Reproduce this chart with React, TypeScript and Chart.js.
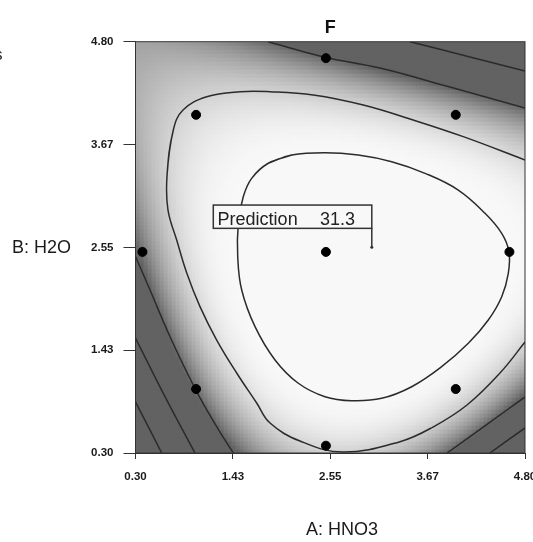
import React, { useEffect, useRef } from 'react';
import { Chart, registerables } from 'chart.js';

Chart.register(...registerables);

// ---------- axes ----------
const AXIS_MIN = 0.3;
const AXIS_MAX = 4.8;
const X_TICK_VALUES = [0.3, 1.425, 2.55, 3.675, 4.8];
const X_TICK_LABELS = ['0.30', '1.43', '2.55', '3.67', '4.80'];
const Y_TICK_VALUES = [0.3, 1.425, 2.55, 3.675, 4.8];
const Y_TICK_LABELS = ['0.30', '1.43', '2.55', '3.67', '4.80'];
const TITLE = 'F';
const X_TITLE = 'A: HNO3';
const Y_TITLE = 'B: H2O';
const STRAY_TEXT = 's';

// ---------- design points (A: HNO3, B: H2O) ----------
const DESIGN_A = [2.5, 1.0, 4.0, 1.0, 4.0, 0.38, 4.62, 2.5, 2.5];
const DESIGN_B = [2.5, 1.0, 1.0, 4.0, 4.0, 2.5, 2.5, 0.38, 4.62];

// ---------- prediction flag ----------
const PREDICTION_LABEL = 'Prediction';
const PREDICTION_A = 3.03;
const PREDICTION_B = 2.55;
const PREDICTION_VALUE = 31.3;

// ---------- contour traces [A, B] ----------
const CONTOUR_30 = [
  [1.834, 3.47], [2.105, 3.56], [2.489, 3.586], [2.874, 3.56], [3.26, 3.487], [3.645, 3.36],
  [4.029, 3.177], [4.338, 2.923], [4.531, 2.704], [4.615, 2.502], [4.607, 2.266], [4.531, 2.01],
  [4.376, 1.755], [4.145, 1.5], [3.837, 1.244], [3.491, 1.025], [3.144, 0.898], [2.798, 0.872],
  [2.489, 0.916], [2.181, 1.063], [1.912, 1.318], [1.681, 1.682], [1.527, 2.083], [1.481, 2.448],
  [1.488, 2.813], [1.545, 3.104], [1.642, 3.305],
];
const CONTOUR_25 = [
  [4.8, 3.506], [4.087, 3.761], [3.509, 3.943], [2.932, 4.107], [2.354, 4.217], [1.854, 4.253],
  [1.507, 4.253], [1.123, 4.198], [0.849, 4.053], [0.737, 3.834], [0.664, 3.331], [0.675, 2.959],
  [0.776, 2.63], [0.892, 2.269], [1.045, 1.901], [1.238, 1.536], [1.469, 1.175], [1.7, 0.847],
  [1.854, 0.628], [2.2, 0.431], [2.697, 0.311], [3.356, 0.424], [3.737, 0.584], [4.13, 0.825],
  [4.511, 1.175], [4.8, 1.514],
];
const CONTOUR_20_LEFT = [[0.3, 2.45], [0.468, 2.083], [0.699, 1.572], [0.987, 1.008], [1.238, 0.588], [1.43, 0.3]];
const CONTOUR_20_TOP = [[1.831, 4.8], [2.478, 4.633], [3.125, 4.512], [3.933, 4.304], [4.8, 4.075]];
const CONTOUR_20_RIGHT = [[3.899, 0.3], [4.349, 0.606], [4.8, 0.913]];
const CONTOUR_15_LEFT = [[0.3, 1.558], [0.621, 0.953], [0.987, 0.3]];
const CONTOUR_15_TOP = [[3.471, 4.8], [4.164, 4.633], [4.8, 4.479]];
const CONTOUR_15_RIGHT = [[4.395, 0.3], [4.8, 0.574]];
const CONTOUR_10_LEFT = [[0.3, 0.86], [0.603, 0.3]];

const CONTOURS = [
  { level: 30, points: CONTOUR_30, closed: true },
  { level: 25, points: CONTOUR_25, closed: false },
  { level: 20, points: CONTOUR_20_LEFT, closed: false },
  { level: 20, points: CONTOUR_20_TOP, closed: false },
  { level: 20, points: CONTOUR_20_RIGHT, closed: false },
  { level: 15, points: CONTOUR_15_LEFT, closed: false },
  { level: 15, points: CONTOUR_15_TOP, closed: false },
  { level: 15, points: CONTOUR_15_RIGHT, closed: false },
  { level: 10, points: CONTOUR_10_LEFT, closed: false },
];

// shade read at the top-left corner [A, B, value]
const SHADE_SAMPLES = [[0.3, 4.8, 21.5]];

// shading range of the grey map
const SHADE_LOW = 20;
const SHADE_HIGH = 29.5;

// ---------- surface fitted (least squares, cubic) to the traced contours ----------
function basis(a: number, b: number) {
  const u = (a - 2.55) / 2.25;
  const v = (b - 2.55) / 2.25;
  return [1, u, v, u * u, u * v, v * v, u * u * u, u * u * v, u * v * v, v * v * v];
}

function fitSurface() {
  const rows: number[][] = [];
  CONTOURS.forEach((c) => {
    const w = c.level <= 20 ? 2 : 1;
    c.points.forEach((p) => rows.push([p[0], p[1], c.level, w]));
  });
  rows.push([PREDICTION_A, PREDICTION_B, PREDICTION_VALUE, 4]);
  SHADE_SAMPLES.forEach((s) => rows.push([s[0], s[1], s[2], 1]));
  const n = 10;
  const M = Array.from({ length: n }, () => new Array(n).fill(0));
  const r = new Array(n).fill(0);
  for (const [a, b, val, w] of rows) {
    const f = basis(a, b);
    for (let i = 0; i < n; i++) {
      r[i] += w * f[i] * val;
      for (let j = 0; j < n; j++) M[i][j] += w * f[i] * f[j];
    }
  }
  for (let i = 0; i < n; i++) M[i][i] += 1e-6;
  for (let k = 0; k < n; k++) {
    let piv = k;
    for (let i = k + 1; i < n; i++) if (Math.abs(M[i][k]) > Math.abs(M[piv][k])) piv = i;
    [M[k], M[piv]] = [M[piv], M[k]];
    [r[k], r[piv]] = [r[piv], r[k]];
    for (let i = k + 1; i < n; i++) {
      const f = M[i][k] / M[k][k];
      for (let j = k; j < n; j++) M[i][j] -= f * M[k][j];
      r[i] -= f * r[k];
    }
  }
  const c = new Array(n).fill(0);
  for (let i = n - 1; i >= 0; i--) {
    let s = r[i];
    for (let j = i + 1; j < n; j++) s -= M[i][j] * c[j];
    c[i] = s / M[i][i];
  }
  return c;
}

const COEF = fitSurface();

function surface(a: number, b: number) {
  const f = basis(a, b);
  let s = 0;
  for (let i = 0; i < f.length; i++) s += COEF[i] * f[i];
  return s;
}

function grey(v: number) {
  const t = Math.min(1, Math.max(0, (v - SHADE_LOW) / (SHADE_HIGH - SHADE_LOW)));
  return Math.round(98 + 150 * (1 - Math.pow(1 - t, 1.9)));
}

const FONT = '"Liberation Sans", Arial, sans-serif';

const heatmapPlugin = {
  id: 'heatmap',
  beforeDatasetsDraw(chart: any) {
    const { ctx, chartArea } = chart;
    const xs = chart.scales.x;
    const ys = chart.scales.y;
    const cell = 4;
    ctx.save();
    ctx.beginPath();
    ctx.rect(chartArea.left, chartArea.top, chartArea.right - chartArea.left, chartArea.bottom - chartArea.top);
    ctx.clip();
    for (let py = chartArea.top; py < chartArea.bottom; py += cell) {
      for (let px = chartArea.left; px < chartArea.right; px += cell) {
        const a = xs.getValueForPixel(px + cell / 2);
        const b = ys.getValueForPixel(py + cell / 2);
        const g = grey(surface(a, b));
        ctx.fillStyle = `rgb(${g},${g},${g})`;
        ctx.fillRect(px, py, cell + 0.6, cell + 0.6);
      }
    }
    ctx.restore();
  },
};

const decorPlugin = {
  id: 'decor',
  afterDatasetsDraw(chart: any) {
    const { ctx, chartArea } = chart;
    const xs = chart.scales.x;
    const ys = chart.scales.y;
    ctx.save();
    // frame
    ctx.strokeStyle = '#333';
    ctx.lineWidth = 1;
    ctx.strokeRect(chartArea.left, chartArea.top, chartArea.right - chartArea.left, chartArea.bottom - chartArea.top);
    // prediction flag
    const px = xs.getPixelForValue(PREDICTION_A);
    const py = ys.getPixelForValue(PREDICTION_B);
    const bottom = py - 19;
    const top = bottom - 23.3;
    const left = px - 158.5;
    ctx.fillStyle = '#f8f8f8';
    ctx.fillRect(left, top, px - left, bottom - top);
    ctx.strokeStyle = '#333';
    ctx.lineWidth = 1.5;
    ctx.strokeRect(left, top, px - left, bottom - top);
    ctx.beginPath();
    ctx.moveTo(px, bottom);
    ctx.lineTo(px, py);
    ctx.stroke();
    ctx.fillStyle = '#333';
    ctx.beginPath();
    ctx.arc(px, py, 1.5, 0, Math.PI * 2);
    ctx.fill();
    ctx.fillStyle = '#222';
    ctx.font = `18px ${FONT}`;
    ctx.textAlign = 'left';
    ctx.textBaseline = 'alphabetic';
    ctx.fillText(PREDICTION_LABEL, left + 4.3, bottom - 3.3);
    ctx.fillText(PREDICTION_VALUE.toFixed(1), left + 106.7, bottom - 3.3);
    ctx.restore();
  },
  afterDraw(chart: any) {
    const { ctx, chartArea } = chart;
    ctx.save();
    ctx.fillStyle = '#111';
    ctx.textBaseline = 'alphabetic';
    ctx.font = `bold 18px ${FONT}`;
    ctx.textAlign = 'center';
    ctx.fillText(TITLE, (chartArea.left + chartArea.right) / 2, 32.5);
    ctx.font = `18px ${FONT}`;
    ctx.fillStyle = '#1a1a1a';
    ctx.fillText(X_TITLE, 342, 535);
    ctx.textAlign = 'left';
    ctx.fillText(Y_TITLE, 12, 253);
    ctx.font = `16px ${FONT}`;
    ctx.fillText(STRAY_TEXT, -5.5, 60);
    ctx.restore();
  },
};

function noPad(s: any) {
  s.paddingLeft = 0;
  s.paddingRight = 0;
  s.paddingTop = 0;
  s.paddingBottom = 0;
}

export default function App() {
  const canvasRef = useRef<HTMLCanvasElement | null>(null);

  useEffect(() => {
    if (!canvasRef.current) return;
    const contourSets = CONTOURS.map((c) => {
      const pts = c.closed ? [...c.points, c.points[0], c.points[1]] : c.points;
      return {
        data: pts.map(([x, y]) => ({ x, y })),
        showLine: true,
        borderColor: '#2b2b2b',
        borderWidth: 1.5,
        pointRadius: 0,
        tension: 0.4,
        fill: false,
        order: 2,
      };
    });
    const chart = new Chart(canvasRef.current, {
      type: 'scatter',
      data: {
        datasets: [
          ...contourSets,
          {
            data: DESIGN_A.map((a, i) => ({ x: a, y: DESIGN_B[i] })),
            pointRadius: 4.5,
            pointBorderWidth: 1,
            backgroundColor: '#000',
            borderColor: '#000',
            showLine: false,
            order: 1,
          },
        ] as any,
      },
      options: {
        animation: false,
        responsive: true,
        maintainAspectRatio: false,
        events: [],
        layout: { padding: { left: 0, top: 41.7, right: 8, bottom: 0 }, autoPadding: false } as any,
        plugins: { legend: { display: false }, tooltip: { enabled: false }, title: { display: false } },
        scales: {
          x: {
            type: 'linear',
            min: AXIS_MIN,
            max: AXIS_MAX,
            afterFit: (s: any) => { s.height = 89; noPad(s); },
            afterBuildTicks: (s: any) => { s.ticks = X_TICK_VALUES.map((v) => ({ value: v })); },
            ticks: {
              callback: (_v: any, i: number) => X_TICK_LABELS[i],
              font: { family: FONT, size: 11.5, weight: 'bold' },
              color: '#1a1a1a',
              padding: 11,
              maxRotation: 0,
              autoSkip: false,
            },
            grid: { drawOnChartArea: false, tickLength: 6, color: '#333', tickColor: '#333' },
            border: { display: true, color: '#333' },
          },
          y: {
            type: 'linear',
            min: AXIS_MIN,
            max: AXIS_MAX,
            afterFit: (s: any) => { s.width = 135.5; noPad(s); },
            afterBuildTicks: (s: any) => { s.ticks = Y_TICK_VALUES.map((v) => ({ value: v })); },
            ticks: {
              callback: (_v: any, i: number) => Y_TICK_LABELS[i],
              font: { family: FONT, size: 11.5, weight: 'bold' },
              color: '#1a1a1a',
              padding: 10,
              autoSkip: false,
            },
            grid: { drawOnChartArea: false, tickLength: 12, color: '#333', tickColor: '#333' },
            border: { display: true, color: '#333' },
          },
        },
      } as any,
      plugins: [heatmapPlugin, decorPlugin],
    });
    return () => chart.destroy();
  }, []);

  return (
    <div style={{ position: 'absolute', left: 0, top: 0, width: 533, height: 542, background: '#fff' }}>
      <canvas ref={canvasRef} />
    </div>
  );
}
